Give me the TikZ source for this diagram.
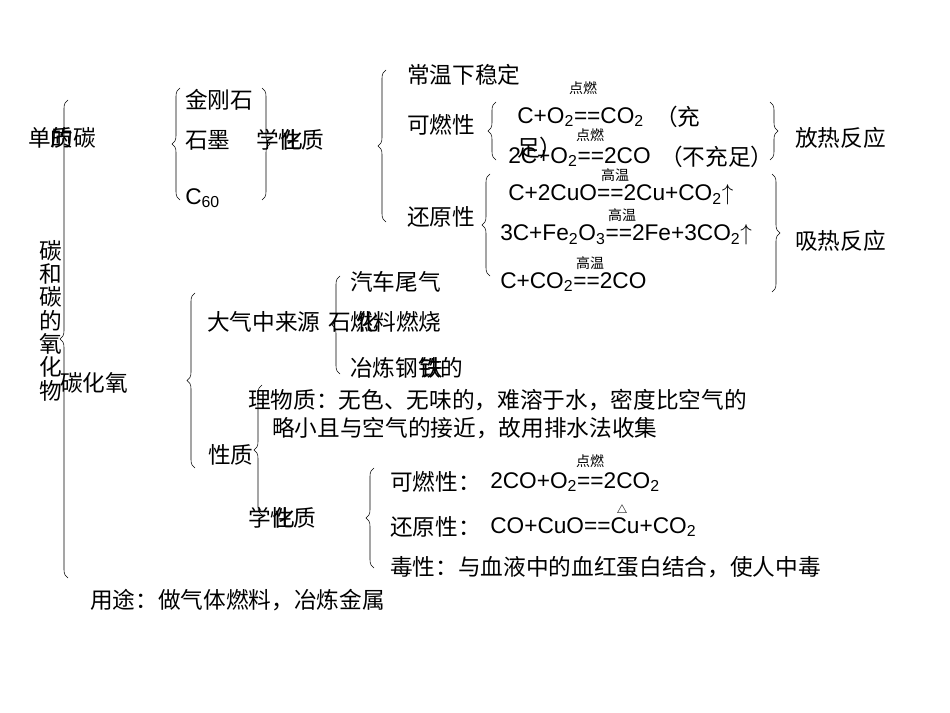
\documentclass[tikz,border=0pt]{standalone}
\usepackage{fontspec}
\setmainfont{Liberation Sans}
\newfontfamily\cjk{Noto Sans CJK SC}
\usetikzlibrary{decorations.pathreplacing}
\begin{document}
\begin{tikzpicture}[x=0.75pt,y=-0.75pt,
  t/.style={anchor=west,inner sep=0,font=\cjk\fontsize{17}{19}\selectfont},
  f/.style={anchor=west,inner sep=0,font=\fontsize{17}{19}\selectfont},
  s/.style={anchor=center,inner sep=0,font=\cjk\fontsize{10.5}{11}\selectfont},
  br/.style={draw,decorate,decoration={brace,amplitude=6pt}}]
\useasboundingbox (0,0) rectangle (950,713);
% main brace
\draw[br] (68,578) -- (68,100);
\node[t] (dz) at (28,138) {单质碳};
\node[t] (de) at (50,138) {的};
\node[t,align=center,font=\cjk\fontsize{17}{17.5}\selectfont,anchor=north] (v) at (51,240) {碳\\和\\碳\\的\\氧\\化\\物};
\node[t] (co) at (60,383) {碳化氧};
% allotropes
\draw[br] (180,200) -- (180,88);
\draw[br] (262,88) -- (262,200);
\node[t] (jg) at (185,100) {金刚石};
\node[t] (sm) at (185,140) {石墨};
\node[f] (c60) at (185,198) {C\textsubscript{60}};
\node[t] (hx) at (256,140) {学性质};
\node[t] (hx2) at (280,140) {化};
% carbon chem properties
\draw[br] (386,222) -- (386,70);
\node[t] (cw) at (407,75) {常温下稳定};
\node[t] (kr) at (407,125) {可燃性};
\node[t] (hy) at (407,217) {还原性};
\draw[br] (496,160) -- (496,102);
\draw[br] (770,102) -- (770,160);
\node[t] (fr) at (795,138) {放热反应};
\node[s] (d1) at (583,88) {点燃};
\node[f] (e1) at (517,117) {C+O\textsubscript{2}==CO\textsubscript{2}};
\node[t] (e1b) at (655,117) {（充};
\node[t] (e1c) at (517,148) {足）};
\node[s] (d2) at (590,135) {点燃};
\node[f] (e2) at (508,157) {2C+O\textsubscript{2}==2CO};
\node[t] (e2b) at (660,157) {（不充足）};
\draw[br] (490,276) -- (490,174);
\draw[br] (772,174) -- (772,292);
\node[t] (xr) at (795,241) {吸热反应};
\node[s] (g1) at (615,175) {高温};
\node[f] (e3) at (508,195) {C+2CuO==2Cu+CO\textsubscript{2}$\uparrow$};
\node[s] (g2) at (622,215) {高温};
\node[f] (e4) at (500,235) {3C+Fe\textsubscript{2}O\textsubscript{3}==2Fe+3CO\textsubscript{2}$\uparrow$};
\node[s] (g3) at (590,263) {高温};
\node[f] (e5) at (500,282) {C+CO\textsubscript{2}==2CO};
% CO
\draw[br] (195,468) -- (195,293);
\node[t] (dq) at (207,322) {大气中来源};
\draw[br] (340,374) -- (340,276);
\node[t] (qc) at (350,282) {汽车尾气};
\node[t] (rl) at (328,322) {石燃料燃烧};
\node[t] (rl2) at (356,322) {化};
\node[t] (yl) at (350,368) {冶炼钢铁的};
\node[t] (yl2) at (420,368) {铁};
\node[t] (wl) at (248,400) {理物质：无色、无味的，难溶于水，密度比空气的};
\node[t] (wl2) at (272,428) {略小且与空气的接近，故用排水法收集};
\node[t] (xz) at (208,455) {性质};
\draw[br] (262,515) -- (262,385);
\node[t] (hx3) at (248,518) {学性质};
\node[t] (hx4) at (272,518) {化};
\draw[br] (374,568) -- (374,468);
\node[t] (k2) at (390,482) {可燃性：};
\node[s] (d3) at (590,461) {点燃};
\node[f] (e6) at (490,482) {2CO+O\textsubscript{2}==2CO\textsubscript{2}};
\node[t] (h2) at (390,527) {还原性：};
\node[s,font=\fontsize{9}{10}\selectfont] (tr) at (622,510) {$\triangle$};
\node[f] (e7) at (490,527) {CO+CuO==Cu+CO\textsubscript{2}};
\node[t] (dx) at (390,567) {毒性：与血液中的血红蛋白结合，使人中毒};
\node[t] (yt) at (90,600) {用途：做气体燃料，冶炼金属};
\end{tikzpicture}
\end{document}
